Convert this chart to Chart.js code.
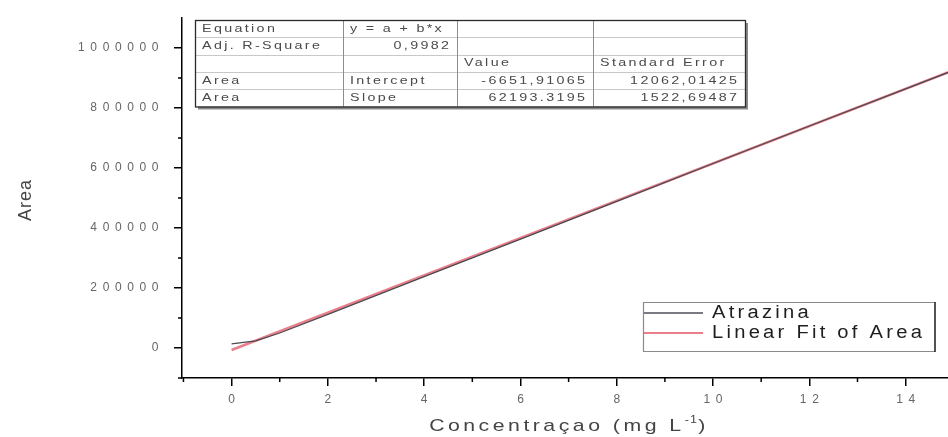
<!DOCTYPE html>
<html>
<head>
<meta charset="utf-8">
<script src="https://cdn.jsdelivr.net/npm/chart.js@4.4.1/dist/chart.umd.min.js"></script>
<style>
  html, body { margin: 0; padding: 0; background: #fff; }
  #wrap { width: 948px; height: 437px; position: relative; }
  canvas { display: block; }
</style>
</head>
<body>
<div id="wrap"><canvas id="c" width="948" height="437"></canvas></div>
<script>
// Calibration data: Atrazina peak area vs concentration
const concentrations = [0, 0.5, 1, 2, 4, 6, 8, 10, 12, 14, 15];
const atrazinaArea   = [14000, 24000, 50000, 112000, 238000, 363000, 489000, 615000, 740000, 864000, 926000];

// Linear fit parameters (y = a + b*x)
const fitIntercept = -6651.91065;
const fitSlope = 62193.3195;
const fitRange = [0, 15];

// Axis ticks
const xTickValues = [0, 2, 4, 6, 8, 10, 12, 14];
const xMinorValues = [-1, 1, 3, 5, 7, 9, 11, 13];
const yTickValues = [0, 200000, 400000, 600000, 800000, 1000000];
const yMinorValues = [-100000, 100000, 300000, 500000, 700000, 900000];

// Fit statistics table
const tableRows = [
  ['Equation', 'y = a + b*x', '', ''],
  ['Adj. R-Square', '0,9982', '', ''],
  ['', '', 'Value', 'Standard Error'],
  ['Area', 'Intercept', '-6651,91065', '12062,01425'],
  ['Area', 'Slope', '62193.3195', '1522,69487']
];
const tableAlign = [
  ['left', 'left', 'left', 'left'],
  ['left', 'right', 'left', 'left'],
  ['left', 'left', 'left', 'left'],
  ['left', 'left', 'right', 'right'],
  ['left', 'left', 'right', 'right']
];

const legendLabels = ['Atrazina', 'Linear Fit of Area'];
const xTitle = 'Concentraçao (mg L';
const yTitle = 'Area';

const fitPoints = fitRange.map(x => ({ x: x, y: fitIntercept + fitSlope * x }));
const dataPoints = concentrations.map((x, i) => ({ x: x, y: atrazinaArea[i] }));

const DATA_COLOR = '#4a4a52';
const FIT_COLOR = 'rgba(232, 120, 132, 0.95)';
const SANS = '"Liberation Sans", Arial, sans-serif';

// Draw text widened horizontally by sx, with letter spacing (in unscaled px)
function wideText(ctx, text, x, y, align, sx, spacing) {
  ctx.save();
  ctx.letterSpacing = spacing + 'px';
  const w = ctx.measureText(text).width - spacing;
  let left = x;
  if (align === 'right') left = x - w * sx;
  else if (align === 'center') left = x - w * sx / 2;
  ctx.translate(left, y);
  ctx.scale(sx, 1);
  ctx.textAlign = 'left';
  ctx.fillText(text, 0, 0);
  ctx.restore();
  return w * sx + spacing * sx;
}

// Letter spacing for tick labels, reset before data is drawn
const spacingPlugin = {
  id: 'spacing',
  beforeDraw(chart) { chart.ctx.letterSpacing = '5.6px'; },
  beforeDatasetsDraw(chart) { chart.ctx.letterSpacing = '0px'; }
};

// Minor tick marks on both axes
const minorTicks = {
  id: 'minorTicks',
  afterDraw(chart) {
    const ctx = chart.ctx;
    const xs = chart.scales.x, ys = chart.scales.y;
    const area = chart.chartArea;
    ctx.save();
    ctx.strokeStyle = '#000';
    ctx.lineWidth = 1.5;
    ctx.beginPath();
    xMinorValues.forEach(v => {
      const px = xs.getPixelForValue(v);
      if (px < area.left - 0.5 || px > area.right) return;
      ctx.moveTo(px, area.bottom);
      ctx.lineTo(px, area.bottom + 4);
    });
    yMinorValues.forEach(v => {
      const py = ys.getPixelForValue(v);
      if (py < area.top || py > area.bottom + 0.5) return;
      ctx.moveTo(area.left, py);
      ctx.lineTo(area.left - 4, py);
    });
    ctx.stroke();
    ctx.restore();
  }
};

// Axis titles
const titles = {
  id: 'titles',
  afterDraw(chart) {
    const ctx = chart.ctx;
    ctx.save();
    ctx.fillStyle = '#444';
    ctx.textBaseline = 'alphabetic';
    const sx = 1.25, sp = 2.8;
    const mainFont = '17px ' + SANS;
    const supFont = '10px ' + SANS;
    ctx.font = mainFont; ctx.letterSpacing = sp + 'px';
    const mainW = ctx.measureText(xTitle).width * sx;
    const closeW = ctx.measureText(')').width * sx;
    ctx.font = supFont; ctx.letterSpacing = '1px';
    const supW = ctx.measureText('-1').width * sx;
    ctx.letterSpacing = '0px';
    const total = mainW + supW + closeW;
    let x = 569 - total / 2;
    const y = 431;
    ctx.font = mainFont;
    wideText(ctx, xTitle, x, y, 'left', sx, sp);
    x += mainW;
    ctx.font = supFont;
    wideText(ctx, '-1', x, y - 8, 'left', sx, 1);
    x += supW;
    ctx.font = mainFont;
    wideText(ctx, ')', x, y, 'left', sx, sp);
    // y title, rotated
    ctx.translate(31, 200);
    ctx.rotate(-Math.PI / 2);
    ctx.font = '18px "Liberation Sans Narrow", "Arial Narrow", ' + SANS;
    ctx.letterSpacing = '1px';
    ctx.textAlign = 'center';
    ctx.fillText(yTitle, 0, 0);
    ctx.restore();
  }
};

// Statistics table in the upper-left of the plot
const statsTable = {
  id: 'statsTable',
  afterDraw(chart) {
    const ctx = chart.ctx;
    const cols = [195, 343, 457, 593, 745];
    const top = 20, rowH = 17.3;
    const bottom = top + rowH * tableRows.length;
    ctx.save();
    // shadow
    ctx.fillStyle = '#8a8a8a';
    ctx.fillRect(cols[0] + 3, top + 3, cols[4] - cols[0], bottom - top);
    ctx.fillStyle = '#fff';
    ctx.fillRect(cols[0], top, cols[4] - cols[0], bottom - top);
    // inner lines
    ctx.lineWidth = 1;
    ctx.strokeStyle = '#c8c8c8';
    ctx.beginPath();
    for (let r = 1; r < tableRows.length; r++) {
      const yy = Math.round(top + r * rowH) + 0.5;
      ctx.moveTo(cols[0], yy); ctx.lineTo(cols[4], yy);
    }
    ctx.stroke();
    ctx.strokeStyle = '#8c8c8c';
    ctx.beginPath();
    for (let c = 1; c < cols.length - 1; c++) {
      ctx.moveTo(cols[c] + 0.5, top); ctx.lineTo(cols[c] + 0.5, bottom);
    }
    ctx.stroke();
    // border
    ctx.strokeStyle = '#2a2a2a';
    ctx.lineWidth = 1.3;
    ctx.strokeRect(cols[0] + 0.5, top + 0.5, cols[4] - cols[0], bottom - top);
    // text
    ctx.fillStyle = '#4a4a4a';
    ctx.font = '11px ' + SANS;
    ctx.textBaseline = 'middle';
    tableRows.forEach((row, r) => {
      const cy = top + r * rowH + rowH / 2;
      row.forEach((txt, c) => {
        if (!txt) return;
        const al = tableAlign[r][c];
        const tx = al === 'left' ? cols[c] + 7 : cols[c + 1] - 8;
        wideText(ctx, txt, tx, cy, al, 1.3, 1.8);
      });
    });
    ctx.restore();
  }
};

// Legend box, lower right
const legendBox = {
  id: 'legendBox',
  afterDraw(chart) {
    const ctx = chart.ctx;
    const left = 643, right = 935, top = 302, bottom = 352;
    ctx.save();
    ctx.fillStyle = '#fff';
    ctx.fillRect(left, top, right - left, bottom - top);
    ctx.strokeStyle = '#8a8a8a';
    ctx.lineWidth = 1.2;
    ctx.beginPath();
    ctx.moveTo(left, top + 0.5); ctx.lineTo(right, top + 0.5);
    ctx.moveTo(left, bottom - 0.5); ctx.lineTo(right, bottom - 0.5);
    ctx.moveTo(left + 0.5, top); ctx.lineTo(left + 0.5, bottom);
    ctx.stroke();
    ctx.strokeStyle = '#1a1a1a';
    ctx.lineWidth = 1.5;
    ctx.beginPath();
    ctx.moveTo(right, top); ctx.lineTo(right, bottom);
    ctx.stroke();
    const colors = ['#7a7a82', FIT_COLOR];
    const ys = [313, 333];
    ctx.font = '18px ' + SANS;
    ctx.textBaseline = 'middle';
    legendLabels.forEach((lab, i) => {
      ctx.strokeStyle = colors[i];
      ctx.lineWidth = 2.2;
      ctx.beginPath();
      ctx.moveTo(left + 1, ys[i]); ctx.lineTo(703, ys[i]);
      ctx.stroke();
      ctx.fillStyle = '#1e1e1e';
      wideText(ctx, lab, 712, ys[i], 'left', 1.12, 2.9);
    });
    ctx.restore();
  }
};

new Chart(document.getElementById('c'), {
  type: 'scatter',
  data: {
    datasets: [
      {
        label: legendLabels[0],
        data: dataPoints,
        showLine: true,
        borderColor: DATA_COLOR,
        borderWidth: 1.3,
        pointRadius: 0,
        tension: 0
      },
      {
        label: legendLabels[1],
        data: fitPoints,
        showLine: true,
        borderColor: FIT_COLOR,
        borderWidth: 2.6,
        pointRadius: 0
      }
    ]
  },
  options: {
    responsive: false,
    animation: false,
    devicePixelRatio: 1,
    layout: { padding: { top: 18, left: 0, right: 0, bottom: 0 } },
    plugins: {
      legend: { display: false },
      tooltip: { enabled: false }
    },
    scales: {
      x: {
        type: 'linear',
        min: -1.03,
        max: 14.88,
        afterBuildTicks: s => { s.ticks = xTickValues.map(v => ({ value: v })); },
        afterFit: s => { s.height = 59; },
        border: { display: true, color: '#000', width: 1.5 },
        grid: { display: true, drawOnChartArea: false, drawTicks: true, tickLength: 8, color: '#000', lineWidth: 1.5 },
        ticks: {
          color: '#666',
          font: { family: SANS, size: 12 },
          padding: 6,
          labelOffset: 2.8,
          maxRotation: 0,
          autoSkip: false,
          callback: v => String(v)
        }
      },
      y: {
        type: 'linear',
        min: -100000,
        max: 1100000,
        afterBuildTicks: s => { s.ticks = yTickValues.map(v => ({ value: v })); },
        afterFit: s => { s.width = 182; },
        border: { display: true, color: '#000', width: 1.5 },
        grid: { display: true, drawOnChartArea: false, drawTicks: true, tickLength: 8, color: '#000', lineWidth: 1.5 },
        ticks: {
          color: '#666',
          font: { family: SANS, size: 12 },
          padding: 10,
          autoSkip: false,
          callback: v => String(v)
        }
      }
    }
  },
  plugins: [spacingPlugin, minorTicks, titles, statsTable, legendBox]
});
</script>
</body>
</html>
